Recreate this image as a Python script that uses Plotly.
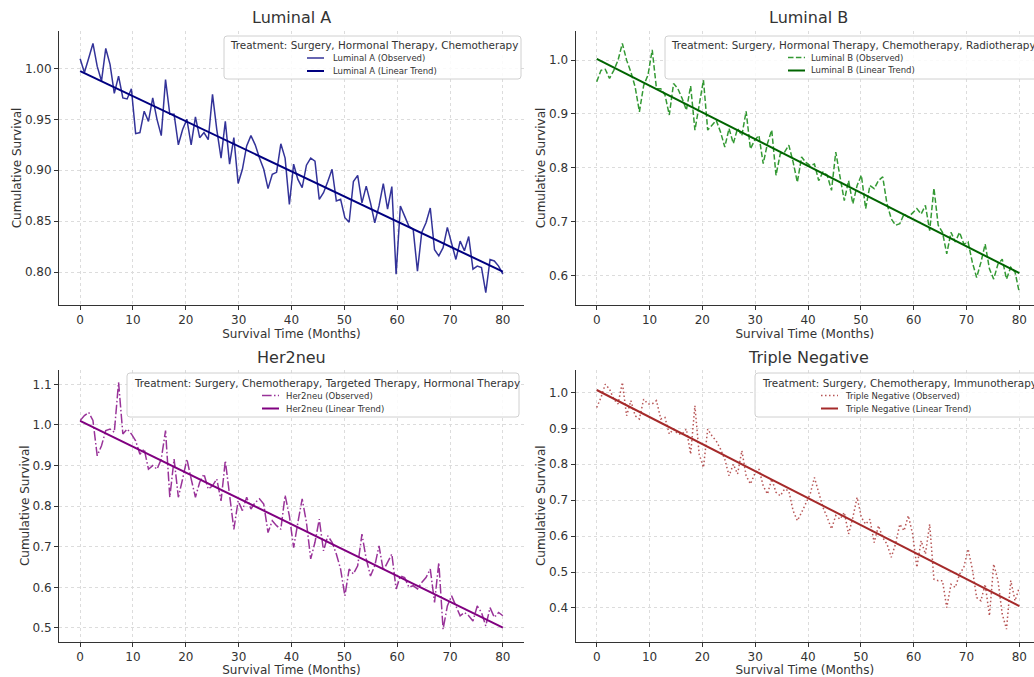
import numpy as np
import plotly.graph_objects as go

# ---------------- data ----------------
months = np.linspace(0, 80, 100)

luminal_a = [1.0095, 0.996, 1.010, 1.0245, 1.002, 0.9876, 1.0196, 1.004, 0.9755, 0.9925,
             0.971, 0.970, 0.980, 0.936, 0.937, 0.958, 0.948, 0.971, 0.950, 0.934,
             0.989, 0.955, 0.955, 0.925, 0.940, 0.950, 0.925, 0.9525, 0.932, 0.937,
             0.930, 0.9745, 0.940, 0.912, 0.948, 0.906, 0.932, 0.887, 0.901, 0.924,
             0.934, 0.925, 0.912, 0.901, 0.882, 0.896, 0.898, 0.926, 0.912, 0.8665,
             0.906, 0.891, 0.883, 0.905, 0.912, 0.909, 0.8715, 0.878, 0.889, 0.901,
             0.870, 0.8715, 0.8535, 0.849, 0.889, 0.895, 0.868, 0.8845, 0.868, 0.8485,
             0.865, 0.887, 0.862, 0.884, 0.798, 0.865, 0.855, 0.845, 0.842, 0.801,
             0.839, 0.8485, 0.863, 0.822, 0.816, 0.824, 0.844, 0.829, 0.8125, 0.8305,
             0.821, 0.835, 0.803, 0.806, 0.8045, 0.780, 0.8125, 0.811, 0.806, 0.798]

luminal_b = [0.960, 0.981, 0.983, 0.966, 0.981, 1.000, 1.031, 1.000, 0.978, 0.950,
             0.904, 0.953, 0.972, 1.019, 0.947, 0.947, 0.935, 0.898, 0.9565, 0.947,
             0.929, 0.907, 0.952, 0.870, 0.916, 0.963, 0.870, 0.879, 0.888, 0.8665,
             0.8385, 0.873, 0.845, 0.873, 0.860, 0.905, 0.835, 0.851, 0.860, 0.8075,
             0.845, 0.870, 0.786, 0.826, 0.829, 0.842, 0.811, 0.773, 0.820, 0.810,
             0.804, 0.807, 0.776, 0.792, 0.786, 0.758, 0.829, 0.783, 0.739, 0.776,
             0.733, 0.767, 0.786, 0.724, 0.767, 0.761, 0.776, 0.783, 0.733, 0.705,
             0.693, 0.696, 0.714, 0.708, 0.717, 0.724, 0.714, 0.730, 0.683, 0.762,
             0.693, 0.680, 0.640, 0.680, 0.662, 0.680, 0.658, 0.662, 0.624, 0.596,
             0.624, 0.658, 0.612, 0.593, 0.621, 0.630, 0.593, 0.615, 0.606, 0.568]

her2neu = [1.0107, 1.023, 1.031, 1.011, 0.924, 0.949, 0.986, 0.990, 0.982, 1.105,
           0.978, 0.990, 0.978, 0.961, 0.928, 0.941, 0.891, 0.900, 0.891, 0.916,
           0.986, 0.822, 0.916, 0.822, 0.867, 0.916, 0.867, 0.822, 0.859, 0.879,
           0.842, 0.850, 0.867, 0.813, 0.912, 0.826, 0.743, 0.813, 0.789, 0.822,
           0.793, 0.809, 0.818, 0.805, 0.735, 0.764, 0.752, 0.743, 0.827, 0.776,
           0.698, 0.760, 0.818, 0.760, 0.670, 0.711, 0.768, 0.690, 0.727, 0.711,
           0.682, 0.645, 0.579, 0.645, 0.633, 0.653, 0.731, 0.670, 0.628, 0.653,
           0.702, 0.641, 0.661, 0.682, 0.596, 0.628, 0.624, 0.600, 0.604, 0.596,
           0.612, 0.624, 0.645, 0.563, 0.661, 0.497, 0.554, 0.579, 0.554, 0.530,
           0.538, 0.530, 0.517, 0.554, 0.538, 0.505, 0.550, 0.526, 0.538, 0.530]

triple_negative = [0.958, 0.986, 1.023, 1.009, 0.981, 0.968, 1.028, 0.935, 0.977, 0.935,
                   0.926, 0.981, 0.968, 0.968, 0.977, 0.926, 0.930, 0.884, 0.898, 0.884,
                   0.884, 0.898, 0.828, 0.963, 0.828, 0.791, 0.898, 0.879, 0.865, 0.842,
                   0.814, 0.768, 0.800, 0.773, 0.838, 0.768, 0.745, 0.773, 0.787, 0.740,
                   0.717, 0.759, 0.722, 0.712, 0.731, 0.726, 0.671, 0.643, 0.666, 0.694,
                   0.717, 0.763, 0.722, 0.680, 0.652, 0.620, 0.657, 0.647, 0.666, 0.606,
                   0.652, 0.708, 0.652, 0.633, 0.647, 0.582, 0.629, 0.596, 0.578, 0.541,
                   0.578, 0.633, 0.615, 0.657, 0.606, 0.513, 0.587, 0.550, 0.633, 0.480,
                   0.476, 0.476, 0.401, 0.466, 0.457, 0.494, 0.513, 0.564, 0.508, 0.429,
                   0.420, 0.466, 0.378, 0.522, 0.476, 0.383, 0.341, 0.476, 0.420, 0.457]

subtypes = ["Luminal A", "Luminal B", "Her2neu", "Triple Negative"]
treatments = ["Surgery, Hormonal Therapy, Chemotherapy",
              "Surgery, Hormonal Therapy, Chemotherapy, Radiotherapy",
              "Surgery, Chemotherapy, Targeted Therapy, Hormonal Therapy",
              "Surgery, Chemotherapy, Immunotherapy"]
series = [luminal_a, luminal_b, her2neu, triple_negative]
y_ticks = [[0.80, 0.85, 0.90, 0.95, 1.00],
           [0.6, 0.7, 0.8, 0.9, 1.0],
           [0.5, 0.6, 0.7, 0.8, 0.9, 1.0, 1.1],
           [0.3, 0.4, 0.5, 0.6, 0.7, 0.8, 0.9, 1.0]]
y_fmt = [".2f", ".1f", ".1f", ".1f"]
x_ticks = [0, 10, 20, 30, 40, 50, 60, 70, 80]

# ---------------- styles ----------------
obs_colors = ["rgba(0,0,128,0.8)", "rgba(0,128,0,0.8)", "rgba(128,0,128,0.8)", "rgba(165,42,42,0.8)"]
trend_colors = ["navy", "darkgreen", "purple", "brown"]
dashes = ["solid", "5.5px,2.4px", "9.6px,2.4px,1.5px,2.4px", "1.5px,2.5px"]

W, H = 1034, 677
def PX(x): return x / W
def PY(y): return 1 - y / H

# plot-area boxes in pixels (left, right, top, bottom)
boxes = [(59, 524, 31, 305), (575.6, 1034, 31, 305), (59, 524, 370, 641.5), (575.6, 1034, 370, 641.5)]
x_ranges = [[-4, 84], [-4, 82.78], [-4, 84], [-4, 82.78]]
title_cx = [291.5, 808.3, 291.5, 808.3]
title_cy = [18, 18, 357, 357]
leg_boxes = [(224, 521, 36, 79), (665, 1045, 36, 79), (127, 519, 373, 417), (755, 1045, 373, 417)]
leg_title_x = [228, 669, 132, 760]
leg_title_y = [44.5, 44.5, 382.5, 382.5]
leg_handle = [(307, 324), (788, 805), (262, 279), (821, 838)]
leg_text_x = [331, 809, 284, 843]
leg_rows = [(58, 71), (57.5, 70.5), (395.5, 408.5), (395.5, 408.5)]

fig = go.Figure()
axis_common = dict(showline=True, linecolor="#333333", linewidth=1, ticks="outside", ticklen=4,
                   tickcolor="#333333", showgrid=True, gridcolor="#dcdcdc", griddash="dot",
                   gridwidth=1, zeroline=False, tickfont=dict(size=12, color="#333333"),
                   mirror=False)


def rounded_rect(x0, x1, y0, y1, r=3):
    rx, ry = r / W, r / H
    X0, X1, Y0, Y1 = PX(x0), PX(x1), PY(y1), PY(y0)  # Y0 bottom, Y1 top
    return (f"M {X0+rx},{Y1} L {X1-rx},{Y1} Q {X1},{Y1} {X1},{Y1-ry} "
            f"L {X1},{Y0+ry} Q {X1},{Y0} {X1-rx},{Y0} L {X0+rx},{Y0} "
            f"Q {X0},{Y0} {X0},{Y0+ry} L {X0},{Y1-ry} Q {X0},{Y1} {X0+rx},{Y1} Z")


shapes, annotations = [], []
for k in range(4):
    xa = "x" if k == 0 else f"x{k+1}"
    ya = "y" if k == 0 else f"y{k+1}"
    vals = np.array(series[k])
    slope, intercept = np.polyfit(months, vals, 1)
    trend = slope * months + intercept
    fig.add_trace(go.Scatter(x=months, y=vals, mode="lines", xaxis=xa, yaxis=ya,
                             name=f"{subtypes[k]} (Observed)", showlegend=False,
                             line=dict(color=obs_colors[k], width=1.5, dash=dashes[k])))
    fig.add_trace(go.Scatter(x=months, y=trend, mode="lines", xaxis=xa, yaxis=ya,
                             name=f"{subtypes[k]} (Linear Trend)", showlegend=False,
                             line=dict(color=trend_colors[k], width=2)))
    l, r, t, b = boxes[k]
    span = vals.max() - vals.min()
    yr = [vals.min() - 0.05 * span, vals.max() + 0.05 * span]
    xkey = "xaxis" if k == 0 else f"xaxis{k+1}"
    ykey = "yaxis" if k == 0 else f"yaxis{k+1}"
    fig.update_layout(**{
        xkey: dict(axis_common, domain=[PX(l), PX(r)], anchor=ya, range=x_ranges[k],
                   tickvals=x_ticks,
                   title=dict(text="Survival Time (Months)", font=dict(size=12, color="#333333"), standoff=1)),
        ykey: dict(axis_common, domain=[PY(b), PY(t)], anchor=xa, range=yr,
                   tickvals=y_ticks[k], tickformat=y_fmt[k],
                   title=dict(text="Cumulative Survival", font=dict(size=12, color="#333333"), standoff=0)),
    })
    annotations.append(dict(text=subtypes[k], x=PX(title_cx[k]), y=PY(title_cy[k]), xref="paper", yref="paper",
                            showarrow=False, xanchor="center", yanchor="middle",
                            font=dict(size=16, color="#333333")))
    # legend frame
    lx0, lx1, ly0, ly1 = leg_boxes[k]
    shapes.append(dict(type="path", xref="paper", yref="paper", path=rounded_rect(lx0, lx1, ly0, ly1),
                       fillcolor="rgba(255,255,255,0.85)", line=dict(color="#d0d0d0", width=1), layer="above"))
    annotations.append(dict(text="Treatment: " + treatments[k], x=PX(leg_title_x[k]), y=PY(leg_title_y[k]),
                            xref="paper", yref="paper", showarrow=False, xanchor="left", yanchor="middle",
                            font=dict(size=10.4, color="#333333")))
    # legend entries
    hx0, hx1 = leg_handle[k]
    labels = [f"{subtypes[k]} (Observed)", f"{subtypes[k]} (Linear Trend)"]
    colors = [obs_colors[k], trend_colors[k]]
    ldash = [dashes[k], "solid"]
    lw = [1.5, 2]
    for j in range(2):
        yy = leg_rows[k][j]
        shapes.append(dict(type="line", xref="paper", yref="paper", x0=PX(hx0), x1=PX(hx1),
                           y0=PY(yy), y1=PY(yy), layer="above",
                           line=dict(color=colors[j], width=lw[j], dash=ldash[j])))
        annotations.append(dict(text=labels[j], x=PX(leg_text_x[k]), y=PY(yy), xref="paper", yref="paper",
                                showarrow=False, xanchor="left", yanchor="middle",
                                font=dict(size=8.5, color="#333333")))

fig.update_layout(width=W, height=H, margin=dict(l=0, r=0, t=0, b=0), plot_bgcolor="white",
                  paper_bgcolor="white", font=dict(family="DejaVu Sans", color="#333333"),
                  shapes=shapes, annotations=annotations, showlegend=False)
fig.write_html("out.html", config={"displayModeBar": False},
               post_script="document.body.style.margin='0px';document.body.style.overflow='hidden';")
